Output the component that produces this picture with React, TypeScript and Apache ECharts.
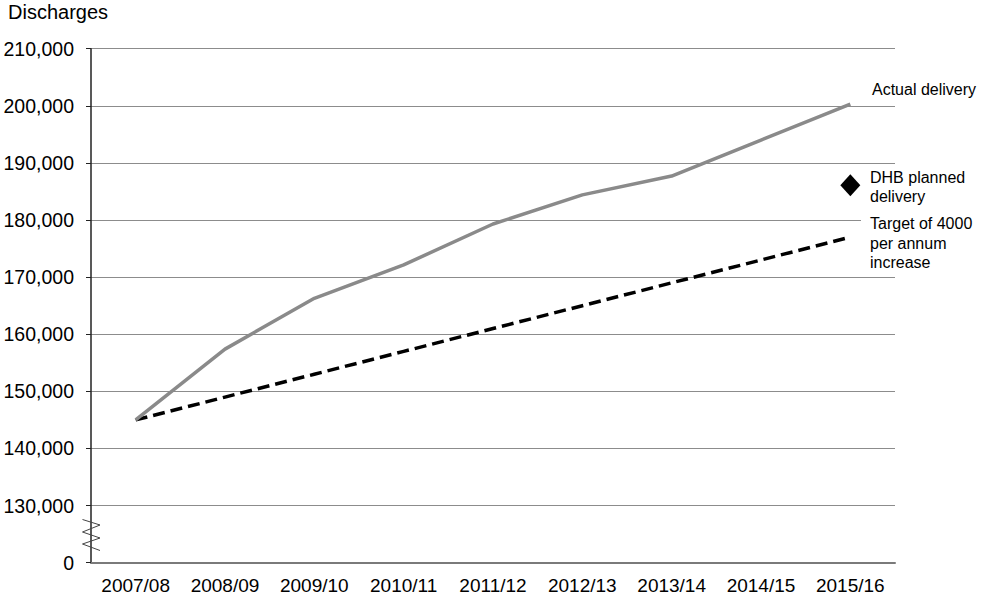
import React, { useEffect, useRef } from "react";
import * as echarts from "echarts";

const categories = ["2007/08", "2008/09", "2009/10", "2010/11", "2011/12", "2012/13", "2013/14", "2014/15", "2015/16"];
const actualDelivery = [145000, 157400, 166300, 172150, 179300, 184400, 187700, 194000, 200300];
const target4000 = [145000, 149000, 153000, 157000, 161000, 165000, 169000, 173000, 177000];
const dhbPlanned = [null, null, null, null, null, null, null, null, 186100];
const yAxisTitle = "Discharges";
const labelActual = "Actual delivery";
const labelDhb = "DHB planned\ndelivery";
const labelTarget = "Target of 4000\nper annum\nincrease";

const FONT = "'Liberation Sans', Arial, sans-serif";

export default function App() {
  const ref = useRef<HTMLDivElement>(null);
  useEffect(() => {
    if (!ref.current) return;
    const chart = echarts.init(ref.current, undefined, { renderer: "svg" });
    chart.setOption({
      animation: false,
      backgroundColor: "#ffffff",
      textStyle: { fontFamily: FONT },
      grid: { left: 91, right: 86, top: 48.7, bottom: 36.3, containLabel: false },
      xAxis: {
        type: "category",
        data: categories,
        boundaryGap: true,
        axisLine: { show: true, lineStyle: { color: "#7a7a7a", width: 2 } },
        axisTick: { show: false },
        axisLabel: { color: "#000", fontSize: 19, fontFamily: FONT, margin: 13 },
        splitLine: { show: false },
      },
      yAxis: {
        type: "value",
        min: 120000,
        max: 210000,
        interval: 10000,
        axisLine: { show: true, lineStyle: { color: "#222", width: 1.5 } },
        axisTick: { show: true, length: 5, lineStyle: { color: "#222" } },
        axisLabel: {
          color: "#000",
          fontSize: 19.5,
          fontFamily: FONT,
          margin: 17,
          formatter: (v: number) => (v === 120000 ? "0" : v.toLocaleString("en-US")),
        },
        splitLine: { show: true, lineStyle: { color: "#8c8c8c", width: 1 } },
      },
      series: [
        {
          name: "Target of 4000 per annum increase",
          type: "line",
          data: target4000,
          symbol: "none",
          lineStyle: { color: "#000", width: 3.5, type: [12, 6] },
          z: 3,
        },
        {
          name: "Actual delivery",
          type: "line",
          data: actualDelivery,
          symbol: "none",
          lineStyle: { color: "#8a8a8a", width: 3.5 },
          z: 4,
        },
        {
          name: "DHB planned delivery",
          type: "scatter",
          data: dhbPlanned,
          symbol: "diamond",
          symbolSize: [20, 22],
          itemStyle: { color: "#000", opacity: 1 },
          z: 5,
        },
      ],
      graphic: [
        {
          type: "text",
          left: 8,
          top: 2,
          style: { text: yAxisTitle, fontSize: 20, fontFamily: FONT, fill: "#000" },
        },
        {
          type: "rect",
          shape: { x: 861, y: 216, width: 40, height: 8 },
          style: { fill: "#fff" },
          z: 10,
        },
        {
          type: "text",
          x: 872,
          y: 80,
          style: { text: labelActual, fontSize: 16, fontFamily: FONT, fill: "#000", lineHeight: 19 },
          z: 11,
        },
        {
          type: "text",
          x: 870,
          y: 168,
          style: { text: labelDhb, fontSize: 16, fontFamily: FONT, fill: "#000", lineHeight: 19 },
          z: 11,
        },
        {
          type: "text",
          x: 870,
          y: 214,
          style: { text: labelTarget, fontSize: 16, fontFamily: FONT, fill: "#000", lineHeight: 19.5 },
          z: 11,
        },
        {
          type: "polyline",
          shape: {
            points: [
              [82.5, 519.5],
              [100, 525],
              [82.5, 532],
              [100, 538],
              [82.5, 544],
              [100, 550.5],
            ],
          },
          style: { stroke: "#444", lineWidth: 1, fill: null },
          z: 10,
        },
      ],
    });
    return () => chart.dispose();
  }, []);
  return (
    <div
      ref={ref}
      style={{ position: "fixed", left: 0, top: 0, width: 981, height: 599, background: "#fff" }}
    />
  );
}
